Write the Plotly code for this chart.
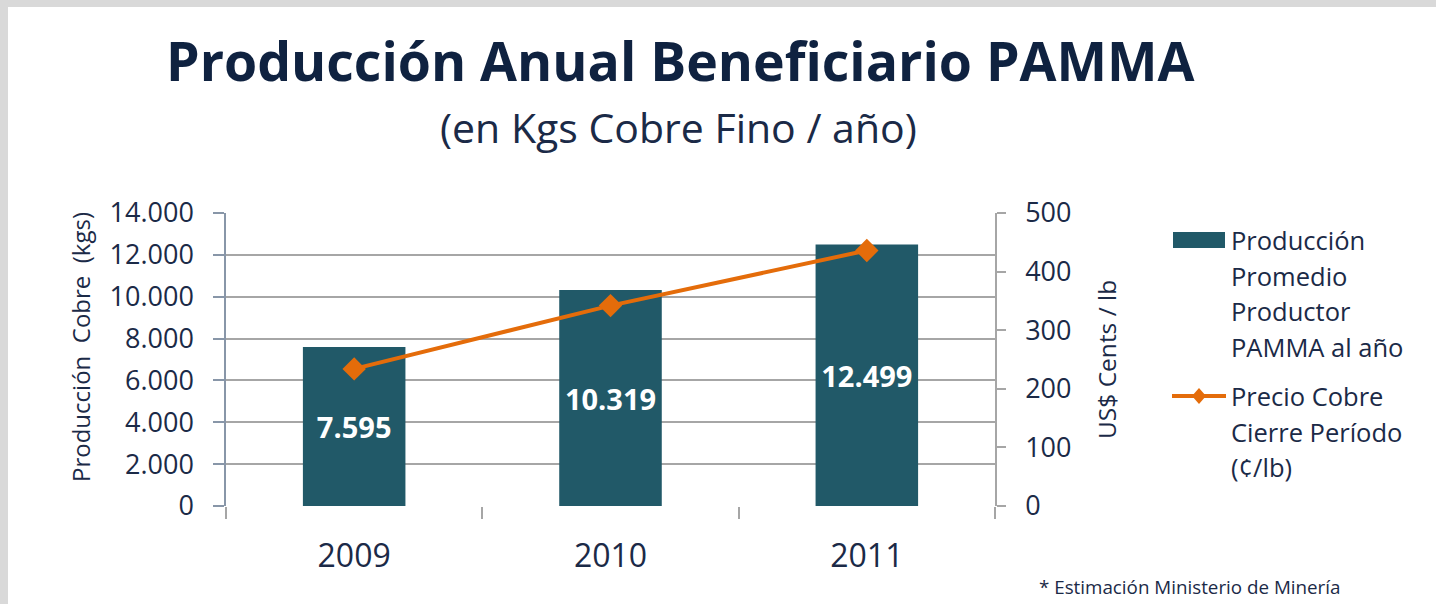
import plotly.graph_objects as go

# ---- data ----
years = ["2009", "2010", "2011"]
produccion_kgs = [7595, 10319, 12499]
precio_cents_lb = [234, 342, 436]
left_ticks = [0, 2000, 4000, 6000, 8000, 10000, 12000, 14000]
right_ticks = [0, 100, 200, 300, 400, 500]

W, H = 1436, 604
PL, PR, PT, PB = 226, 995, 213, 506  # plot area in pixels

def px(x):
    return (x - PL) / (PR - PL)

def py(y):
    return (PB - y) / (PB - PT)

TXT = "#1B2A47"
BAR = "#215968"
ORG = "#E46C0A"
FONT = "Open Sans"

fig = go.Figure()
fig.add_trace(go.Bar(
    x=years, y=produccion_kgs, marker=dict(color=BAR, line=dict(width=0)),
    width=0.4, texttemplate="%{y:,d}", textposition="inside",
    insidetextanchor="middle", textangle=0, constraintext="none",
    textfont=dict(family=FONT, size=29, color="white", weight="bold"),
    name="Producción Promedio Productor PAMMA al año", showlegend=False,
))
fig.add_trace(go.Scatter(
    x=years, y=precio_cents_lb, yaxis="y2", mode="lines+markers",
    line=dict(color=ORG, width=4),
    marker=dict(symbol="diamond", size=18, color=ORG),
    name="Precio Cobre Cierre Período (¢/lb)", showlegend=False,
))

shapes = [
    # gray frame (left and top)
    dict(type="rect", xref="paper", yref="paper", x0=px(0), x1=px(8), y0=py(H), y1=py(0),
         fillcolor="#D9D9D9", line=dict(width=0), layer="below"),
    dict(type="rect", xref="paper", yref="paper", x0=px(0), x1=px(W), y0=py(7), y1=py(0),
         fillcolor="#D9D9D9", line=dict(width=0), layer="below"),
    # legend swatches
    dict(type="rect", xref="paper", yref="paper", x0=px(1173), x1=px(1225), y0=py(248), y1=py(232),
         fillcolor=BAR, line=dict(width=0)),
    dict(type="line", xref="paper", yref="paper", x0=px(1172), x1=px(1226), y0=py(396), y1=py(396),
         line=dict(color=ORG, width=4)),
    dict(type="path", xref="paper", yref="paper",
         path="M {} {} L {} {} L {} {} L {} {} Z".format(
             px(1199), py(388), px(1206), py(396), px(1199), py(404), px(1192), py(396)),
         fillcolor=ORG, line=dict(width=0)),
]

ann = []
ann.append(dict(text="<b>Producción Anual Beneficiario PAMMA</b>", x=px(680), y=py(60),
                font=dict(family=FONT, size=53.6, color="#0F2240")))
ann.append(dict(text="(en Kgs Cobre Fino / año)", x=px(678), y=py(127),
                font=dict(family=FONT, size=41, color=TXT)))
ann.append(dict(text="Producción  Cobre  (kgs)", x=px(80), y=py(347), textangle=-90,
                font=dict(family=FONT, size=24, color=TXT)))
ann.append(dict(text="US$ Cents / lb", x=px(1106), y=py(360), textangle=-90,
                font=dict(family=FONT, size=24.5, color=TXT)))
leg1 = ["Producción", "Promedio", "Productor", "PAMMA al año"]
for i, t in enumerate(leg1):
    ann.append(dict(text=t, x=px(1229), y=py(240 + 35.7 * i), xanchor="left",
                    font=dict(family=FONT, size=25.5, color=TXT)))
leg2 = ["Precio Cobre", "Cierre Período", "(¢/lb)"]
for i, t in enumerate(leg2):
    ann.append(dict(text=t, x=px(1229), y=py(396 + 35.7 * i), xanchor="left",
                    font=dict(family=FONT, size=25.5, color=TXT)))
ann.append(dict(text="* Estimación Ministerio de Minería", x=px(1037), y=py(587), xanchor="left",
                font=dict(family=FONT, size=18.8, color=TXT)))
for a in ann:
    a.update(xref="paper", yref="paper", showarrow=False)
    a.setdefault("xanchor", "center")
    a.setdefault("yanchor", "middle")

fig.update_layout(
    width=W, height=H, autosize=False,
    margin=dict(l=PL, r=W - PR, t=PT, b=H - PB, pad=0),
    paper_bgcolor="white", plot_bgcolor="white",
    separators=",.",
    font=dict(family=FONT, color=TXT),
    shapes=shapes, annotations=ann,
    bargap=0.6,
    xaxis=dict(
        type="category", showgrid=False, showline=False, zeroline=False,
        ticks="outside", tickson="boundaries", ticklen=12, tickwidth=1.5, tickcolor="#A6A6A6",
        tickfont=dict(family=FONT, size=32, color=TXT), ticklabelstandoff=28,
    ),
    yaxis=dict(
        range=[0, 14000], tickvals=left_ticks, tickformat=",d",
        showgrid=True, gridcolor="#A6A6A6", gridwidth=1.5,
        zeroline=False, showline=True, linecolor="#8896A8", linewidth=1.5,
        ticks="outside", ticklen=11, tickwidth=1.5, tickcolor="#8896A8",
        tickfont=dict(family=FONT, size=27, color=TXT), ticklabelstandoff=14,
    ),
    yaxis2=dict(
        range=[0, 500], tickvals=right_ticks, overlaying="y", side="right",
        showgrid=False, zeroline=False, showline=True, linecolor="#A6A6A6", linewidth=1.5,
        ticks="outside", ticklen=9, tickwidth=1.5, tickcolor="#A6A6A6",
        tickfont=dict(family=FONT, size=27, color=TXT), ticklabelstandoff=14,
    ),
)

fig.write_html("out.html", config={"displayModeBar": False},
               post_script="document.body.style.margin='0';")
